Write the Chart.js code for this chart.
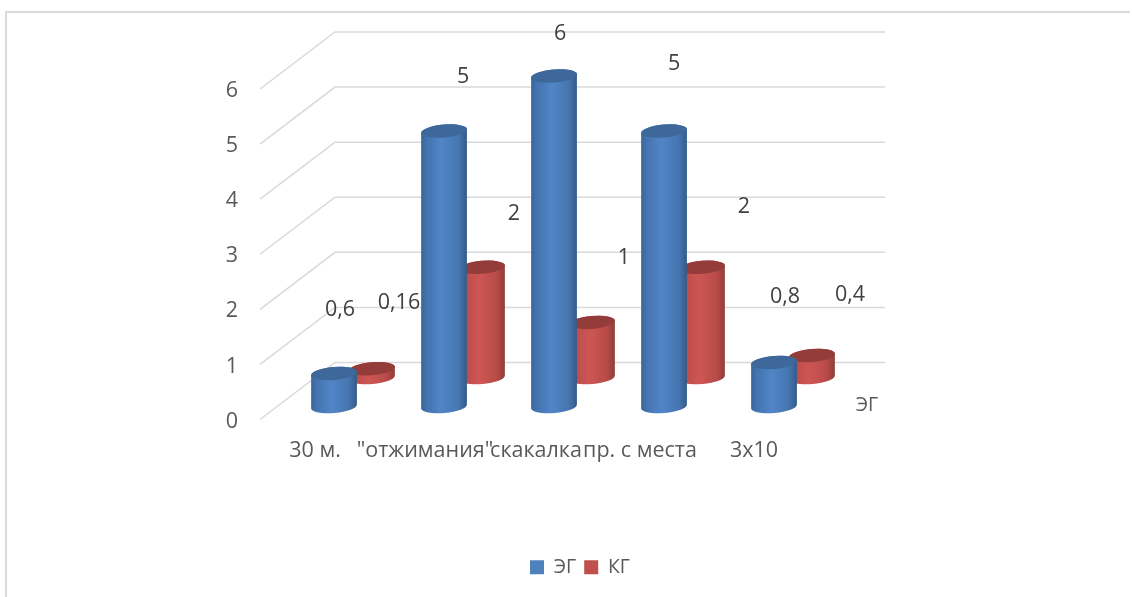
<!DOCTYPE html>
<html lang="ru">
<head>
<meta charset="utf-8">
<title>ЭГ / КГ</title>
<script src="https://cdn.jsdelivr.net/npm/chart.js@4"></script>
<style>
    html, body { margin: 0; padding: 0; background: #fff; }
    #wrap { position: relative; width: 1132px; height: 597px; overflow: hidden; }
    #frame { position: absolute; left: 5px; top: 11px; width: 1125px; height: 600px; border: 2px solid #d9d9d9; border-right: 0; box-sizing: border-box; }
    canvas { position: absolute; left: 0; top: 0; }
</style>
</head>
<body>
<div id="wrap">
    <div id="frame"></div>
    <canvas id="chart" width="1132" height="597"></canvas>
</div>
<script>
// values
const categories = ['30 м.', '"отжимания"', 'скакалка', 'пр. с места', '3х10'];
const egValues = [0.6, 5, 6, 5, 0.8];
const kgValues = [0.16, 2, 1, 2, 0.4];
const yTicks = [0, 1, 2, 3, 4, 5, 6];

// hand placement of the texts, the original has them scattered
const categoryLabelShift = [-38, -38, -37, -43, -39];
const egLabelShift = [[6, -64], [19, -54], [6, -42], [10, -67], [11, -66]];
const kgLabelShift = [[27, -66], [32, -53], [32, -65], [42, -60], [38, -61]];

const FONT = '"Open Sans", sans-serif';
const TEXT_GREY = '#595959';
const LABEL_GREY = '#404040';
const GRID_GREY = '#d9d9d9';

const looks = [
    { // ЭГ, front row
        depthY: -13,
        top: '#3d6899',
        stops: ['#3a659a', '#4575b1', '#5085c7', '#4676b0', '#335a88']
    },
    { // КГ, back row
        depthY: -42,
        top: '#943c39',
        stops: ['#9a4340', '#bd4d4a', '#cd5653', '#b84b48', '#8f3d3a']
    }
];

function drawCylinder(ctx, bar, look, scaleY) {
    const r = bar.width / 2;
    const ry = 6.5;
    const tilt = -0.085;
    const topY = bar.y + look.depthY;
    const baseY = scaleY.getPixelForValue(0) + look.depthY;

    const grad = ctx.createLinearGradient(bar.x - r, 0, bar.x + r, 0);
    look.stops.forEach((c, i) => grad.addColorStop([0, 0.14, 0.45, 0.82, 1][i], c));

    ctx.beginPath();
    ctx.ellipse(bar.x, baseY, r, ry, tilt, Math.PI, 0, true);
    ctx.ellipse(bar.x, topY, r, ry, tilt, 0, Math.PI, true);
    ctx.closePath();
    ctx.fillStyle = grad;
    ctx.fill();

    ctx.beginPath();
    ctx.ellipse(bar.x, topY, r, ry, tilt, 0, Math.PI * 2);
    ctx.fillStyle = look.top;
    ctx.fill();
}

const scene3d = {
    id: 'scene3d',
    beforeDatasetsDraw(chart) {
        const ctx = chart.ctx;
        const y = chart.scales.y;
        const x = chart.scales.x;
        const area = chart.chartArea;

        // side wall and back wall of the 3d box
        ctx.save();
        ctx.strokeStyle = GRID_GREY;
        ctx.lineWidth = 1.5;
        yTicks.forEach(v => {
            const py = y.getPixelForValue(v);
            ctx.beginPath();
            ctx.moveTo(area.left - 38, py);
            ctx.lineTo(area.left + 37, py - 57);
            ctx.lineTo(area.right + 37, py - 57);
            ctx.stroke();
        });

        // back row first so the front row covers it
        for (let ds = 1; ds >= 0; ds--) {
            chart.getDatasetMeta(ds).data.forEach(bar => drawCylinder(ctx, bar, looks[ds], y));
        }

        // texts
        ctx.font = '21.5px ' + FONT;
        ctx.textAlign = 'center';
        ctx.textBaseline = 'middle';

        ctx.fillStyle = LABEL_GREY;
        [egLabelShift, kgLabelShift].forEach((shift, ds) => {
            chart.getDatasetMeta(ds).data.forEach((bar, i) => {
                const txt = String(chart.data.datasets[ds].data[i]).replace('.', ',');
                ctx.fillText(txt, bar.x + shift[i][0], bar.y + looks[ds].depthY + shift[i][1]);
            });
        });

        ctx.fillStyle = TEXT_GREY;
        categories.forEach((c, i) => {
            ctx.fillText(c, x.getPixelForValue(i) + categoryLabelShift[i], 451);
        });

        ctx.font = '19.5px ' + FONT;
        ctx.fillText(chart.data.datasets[0].label, area.right + 19, 405);
        ctx.restore();

        return false; // the cylinders replace the flat bars
    }
};

new Chart(document.getElementById('chart'), {
    type: 'bar',
    data: {
        labels: categories,
        datasets: [
            { label: 'ЭГ', data: egValues, backgroundColor: '#4f81bd' },
            { label: 'КГ', data: kgValues, backgroundColor: '#c0504d' }
        ]
    },
    plugins: [scene3d],
    options: {
        responsive: false,
        animation: false,
        layout: { padding: { left: 212, right: 184, top: 89, bottom: 10 } },
        datasets: { bar: { categoryPercentage: 0.69, barPercentage: 1.21 } },
        scales: {
            x: {
                grid: { display: false },
                border: { display: false },
                ticks: { display: false },
                afterFit: s => { s.height = 130; }
            },
            y: {
                min: 0,
                max: 6,
                afterFit: s => { s.width = 86; },
                grid: { display: false },
                border: { display: false },
                ticks: { stepSize: 1, padding: 52, labelOffset: 2, color: TEXT_GREY, font: { family: FONT, size: 21.5 } }
            },
            // empty axis, only pushes the plot left of the legend centre
            spacer: {
                type: 'linear',
                position: 'right',
                grid: { display: false },
                border: { display: false },
                ticks: { display: false },
                afterFit: s => { s.width = 100; }
            }
        },
        plugins: {
            tooltip: { enabled: false },
            legend: {
                position: 'bottom',
                labels: {
                    boxWidth: 14,
                    boxHeight: 14,
                    padding: 8,
                    color: TEXT_GREY,
                    font: { family: FONT, size: 19.5 }
                }
            }
        }
    }
});
</script>
</body>
</html>
